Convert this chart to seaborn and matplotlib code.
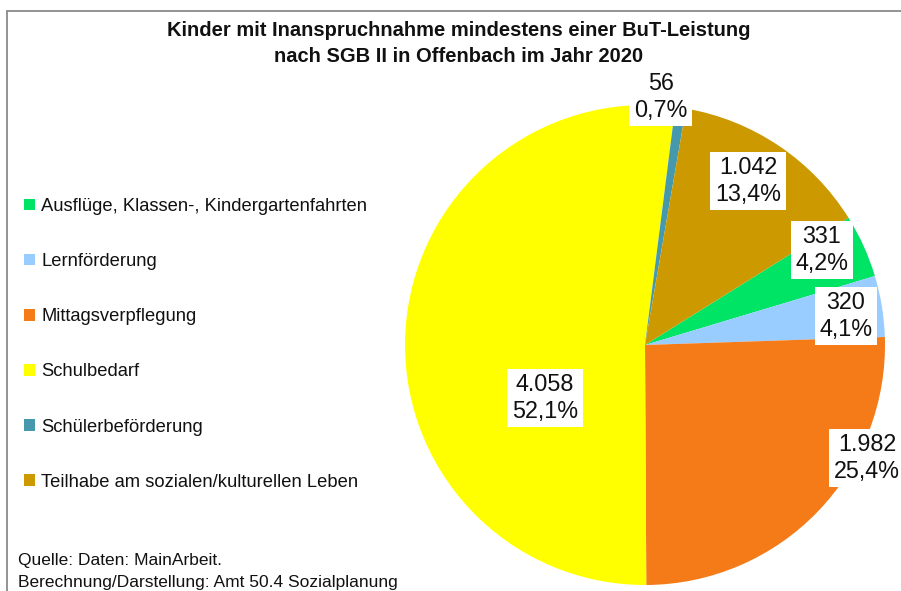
import matplotlib
matplotlib.use("Agg")
import numpy as np
import matplotlib.pyplot as plt
from matplotlib import font_manager
from matplotlib.lines import Line2D
import seaborn as sns

# Leistungsarten (Legendenreihenfolge) und Anzahl Kinder
categories = [
    "Ausflüge, Klassen-, Kindergartenfahrten",
    "Lernförderung",
    "Mittagsverpflegung",
    "Schulbedarf",
    "Schülerbeförderung",
    "Teilhabe am sozialen/kulturellen Leben",
]
children = [331, 320, 1982, 4058, 56, 1042]
slice_colors = ["#00E466", "#99CCFF", "#F57A18", "#FFFF00", "#4698AC", "#CC9900"]

title_lines = [
    "Kinder mit Inanspruchnahme mindestens einer BuT-Leistung",
    "nach SGB II in Offenbach im Jahr 2020",
]
source_lines = [
    "Quelle: Daten: MainArbeit.",
    "Berechnung/Darstellung: Amt 50.4 Sozialplanung",
]

# label placement per slice: radius (pie units) and angular shift (degrees)
label_radius = [0.837, 0.846, 1.038, 0.472, 1.035, 0.807]
label_shift = [3.9, -1.1, 16.9, 31.4, 4.9, 1.8]

sns.set_theme(style="white")
installed = {f.name for f in font_manager.fontManager.ttflist}
plt.rcParams["font.family"] = ["Liberation Sans", "DejaVu Sans"]
if "Liberation Sans Narrow" in installed:
    narrow_family = ["Liberation Sans Narrow", "DejaVu Sans"]
    label_size, source_size = 19.5, 15
else:
    narrow_family = ["Liberation Sans", "DejaVu Sans"]
    label_size, source_size = 16.8, 12.5

palette = sns.color_palette(slice_colors)

W, H = 901, 591
fig = plt.figure(figsize=(W / 100, H / 100), dpi=100)
fig.patch.set_facecolor("white")

# pie centre at (645, 345) px from top-left, radius 240 px
cx, cy, R = 645, 345, 240
ax = fig.add_axes([0, 0, 1, 1])
wedges, _ = ax.pie(
    children,
    colors=palette,
    startangle=32,
    counterclock=False,
    radius=1,
    wedgeprops=dict(linewidth=0),
)
ax.set_xlim(-cx / R, (W - cx) / R)
ax.set_ylim(-(H - cy) / R, cy / R)
ax.set_aspect("auto")
ax.axis("off")

total = sum(children)
for w, v, r, d in zip(wedges, children, label_radius, label_shift):
    mid = np.deg2rad((w.theta1 + w.theta2) / 2 + d)
    pct = f"{100 * v / total:.1f}".replace(".", ",") + "%"
    txt = f"{v:,}".replace(",", ".") + "\n" + pct
    ax.text(
        r * np.cos(mid), r * np.sin(mid), txt,
        ha="center", va="center", fontsize=label_size, family=narrow_family,
        color="#111111", linespacing=1.18,
        bbox=dict(boxstyle="square,pad=0.2", fc="white", ec="none"),
    )

# legend on the left
fig.legend(
    wedges, categories,
    loc="upper left",
    bbox_to_anchor=(24 / W, 1 - 198 / H),
    frameon=False,
    fontsize=13.2,
    handlelength=0.6, handleheight=0.6,
    handletextpad=0.35,
    labelspacing=2.08,
    borderpad=0, borderaxespad=0,
    labelcolor="#111111",
)

# title
fig.text(459 / W, 1 - 30 / H, title_lines[0], ha="center", va="center",
         fontsize=14.5, fontweight="bold", color="#111111")
fig.text(459 / W, 1 - 57 / H, title_lines[1], ha="center", va="center",
         fontsize=14.5, fontweight="bold", color="#111111")

# source note
fig.text(18 / W, 1 - 560 / H, source_lines[0], ha="left", va="center",
         fontsize=source_size, family=narrow_family, color="#111111")
fig.text(18 / W, 1 - 583 / H, source_lines[1], ha="left", va="center",
         fontsize=source_size, family=narrow_family, color="#111111")

# chart-area border (left and top edges)
fig.add_artist(Line2D([7 / W, 7 / W], [0, 1 - 10.5 / H], transform=fig.transFigure,
                      color="#8a8a8a", linewidth=1.3))
fig.add_artist(Line2D([7 / W, 1], [1 - 10.5 / H, 1 - 10.5 / H], transform=fig.transFigure,
                      color="#8a8a8a", linewidth=1.3))

fig.savefig("out.png", dpi=100, facecolor="white")
